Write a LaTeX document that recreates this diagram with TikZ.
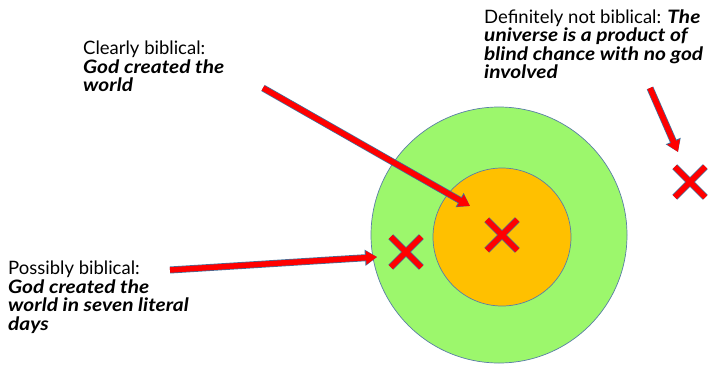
\documentclass[tikz,border=0pt]{standalone}
\usepackage{fontspec}
\setmainfont{Lato}
\usetikzlibrary{arrows.meta,shapes.misc}
\definecolor{ringgreen}{HTML}{9CF76C}
\definecolor{coreorange}{HTML}{FFC000}
\definecolor{edgeblue}{HTML}{41719C}
\definecolor{rimgray}{HTML}{5A7FA6}
\definecolor{markred}{HTML}{FF0000}
\newcommand\stmt[1]{{\bfseries\itshape\addfontfeature{FakeStretch=1.13}#1}}

\begin{document}
\begin{tikzpicture}[
    x=1pt, y=-1pt,
    ring/.style={circle, draw=rimgray, line width=0.7pt, inner sep=0pt},
    claim/.style={anchor=north west, align=left, inner sep=0pt,
                  font=\fontsize{18.5}{18.4}\selectfont},
    xmark/.style={cross out, draw=markred, line width=5.5pt, inner sep=0pt,
                  minimum size=25pt,
                  preaction={draw=edgeblue, line width=7pt}},
    arr/.style={-{Triangle[length=11pt, width=13pt]}, markred, line width=5.5pt,
                preaction={draw=edgeblue, line width=7pt,
                           -{Triangle[length=12pt, width=15.5pt]}}}
  ]

  % ---- Canvas ----
  \useasboundingbox (0,0) rectangle (711,364);

  % ---- Target rings ----
  \node[ring, fill=ringgreen, minimum size=256pt] (outer) at (499,235) {};
  \node[ring, fill=coreorange, minimum size=138pt] (inner) at (502,237) {};

  % ---- Marks ----
  \node[xmark] (xcore) at (502,235) {};
  \node[xmark] (xring) at (406,252) {};
  \node[xmark] (xout) at (690,182) {};

  % ---- Claims ----
  \node[claim] (clear) at (83,41)
    {Clearly biblical:\\\stmt{God created the}\\\stmt{world}};
  \node[claim] (notbib) at (484,9.5)
    {Definitely not biblical: \stmt{The}\\
     \stmt{universe is a product of}\\
     \stmt{blind chance with no god}\\
     \stmt{involved}};
  \node[claim] (maybe) at (8,261)
    {Possibly biblical:\\\stmt{God created the}\\
     \stmt{world in seven literal}\\\stmt{days}};

  % ---- Pointers ----
  \coordinate (clear-tail) at (263,88);
  \coordinate (clear-head) at (470,206);
  \coordinate (maybe-tail) at (170,270);
  \coordinate (maybe-head) at (377,257);
  \coordinate (notbib-tail) at (650,88);
  \coordinate (notbib-head) at (678,152);
  \draw[arr] (clear-tail) -- (clear-head);
  \draw[arr] (maybe-tail) -- (maybe-head);
  \draw[arr] (notbib-tail) -- (notbib-head);

\end{tikzpicture}
\end{document}
